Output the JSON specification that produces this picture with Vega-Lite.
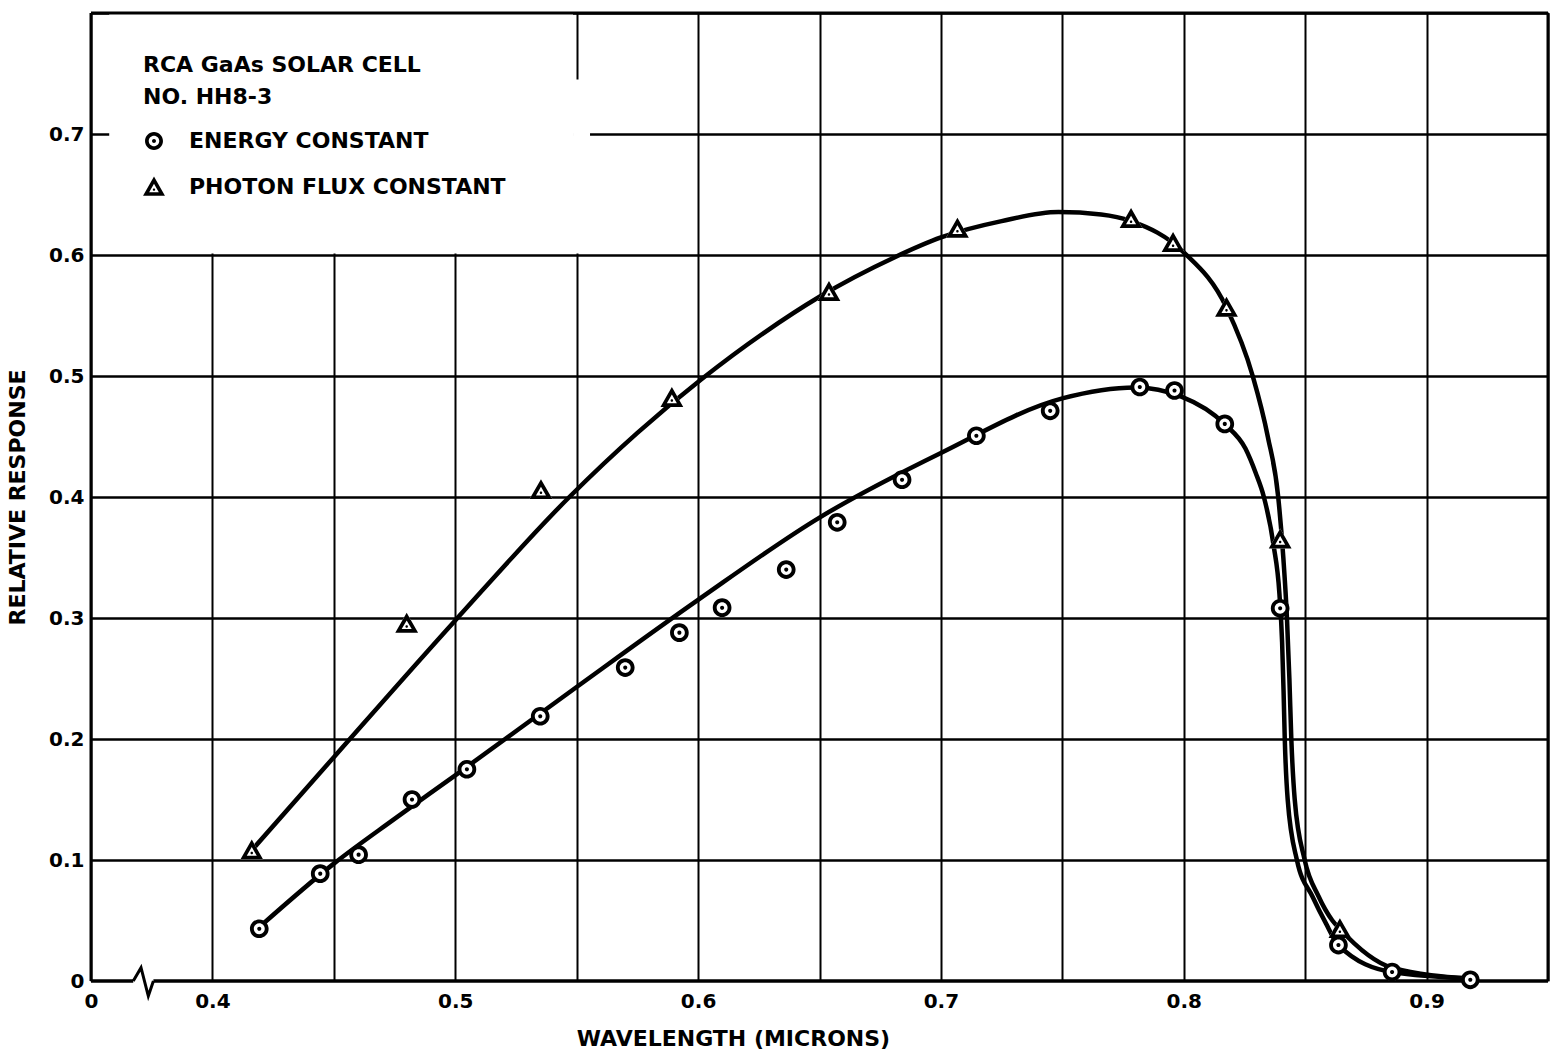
{
  "$schema": "https://vega.github.io/schema/vega-lite/v6.json",
  "width": 1457,
  "height": 968,
  "autosize": {"type": "none"},
  "padding": {"left": 91, "top": 13, "right": 4, "bottom": 73},
  "background": "white",
  "config": {
    "view": {"stroke": null},
    "font": "DejaVu Sans",
    "axis": {"labelFont": "DejaVu Sans", "titleFont": "DejaVu Sans"},
    "legend": {"labelFont": "DejaVu Sans", "titleFont": "DejaVu Sans"}
  },
  "datasets": {
    "points": [
      {"w": 0.4193, "r": 0.0432, "s": "ENERGY CONSTANT"},
      {"w": 0.4444, "r": 0.0887, "s": "ENERGY CONSTANT"},
      {"w": 0.4602, "r": 0.1044, "s": "ENERGY CONSTANT"},
      {"w": 0.4822, "r": 0.150, "s": "ENERGY CONSTANT"},
      {"w": 0.5048, "r": 0.175, "s": "ENERGY CONSTANT"},
      {"w": 0.535, "r": 0.2188, "s": "ENERGY CONSTANT"},
      {"w": 0.570, "r": 0.259, "s": "ENERGY CONSTANT"},
      {"w": 0.5923, "r": 0.2879, "s": "ENERGY CONSTANT"},
      {"w": 0.6099, "r": 0.3085, "s": "ENERGY CONSTANT"},
      {"w": 0.6363, "r": 0.340, "s": "ENERGY CONSTANT"},
      {"w": 0.6573, "r": 0.3791, "s": "ENERGY CONSTANT"},
      {"w": 0.684, "r": 0.4143, "s": "ENERGY CONSTANT"},
      {"w": 0.7146, "r": 0.4506, "s": "ENERGY CONSTANT"},
      {"w": 0.745, "r": 0.4712, "s": "ENERGY CONSTANT"},
      {"w": 0.7819, "r": 0.4909, "s": "ENERGY CONSTANT"},
      {"w": 0.7962, "r": 0.488, "s": "ENERGY CONSTANT"},
      {"w": 0.8169, "r": 0.4604, "s": "ENERGY CONSTANT"},
      {"w": 0.8397, "r": 0.308, "s": "ENERGY CONSTANT"},
      {"w": 0.8637, "r": 0.0297, "s": "ENERGY CONSTANT"},
      {"w": 0.8858, "r": 0.0074, "s": "ENERGY CONSTANT"},
      {"w": 0.918, "r": 0.001, "s": "ENERGY CONSTANT"},
      {"w": 0.4162, "r": 0.108, "s": "PHOTON FLUX CONSTANT"},
      {"w": 0.480, "r": 0.2953, "s": "PHOTON FLUX CONSTANT"},
      {"w": 0.5353, "r": 0.4058, "s": "PHOTON FLUX CONSTANT"},
      {"w": 0.5892, "r": 0.482, "s": "PHOTON FLUX CONSTANT"},
      {"w": 0.6539, "r": 0.5696, "s": "PHOTON FLUX CONSTANT"},
      {"w": 0.7068, "r": 0.6218, "s": "PHOTON FLUX CONSTANT"},
      {"w": 0.7783, "r": 0.6298, "s": "PHOTON FLUX CONSTANT"},
      {"w": 0.7956, "r": 0.610, "s": "PHOTON FLUX CONSTANT"},
      {"w": 0.8176, "r": 0.5565, "s": "PHOTON FLUX CONSTANT"},
      {"w": 0.8397, "r": 0.365, "s": "PHOTON FLUX CONSTANT"},
      {"w": 0.8643, "r": 0.043, "s": "PHOTON FLUX CONSTANT"}
    ],
    "curves": [
      {"w": 0.4193, "r": 0.0445, "s": "ENERGY CONSTANT"},
      {"w": 0.45, "r": 0.097, "s": "ENERGY CONSTANT"},
      {"w": 0.475, "r": 0.134, "s": "ENERGY CONSTANT"},
      {"w": 0.5, "r": 0.170, "s": "ENERGY CONSTANT"},
      {"w": 0.55, "r": 0.2430, "s": "ENERGY CONSTANT"},
      {"w": 0.6, "r": 0.3150, "s": "ENERGY CONSTANT"},
      {"w": 0.65, "r": 0.3830, "s": "ENERGY CONSTANT"},
      {"w": 0.7, "r": 0.4364, "s": "ENERGY CONSTANT"},
      {"w": 0.75, "r": 0.4815, "s": "ENERGY CONSTANT"},
      {"w": 0.78, "r": 0.4905, "s": "ENERGY CONSTANT"},
      {"w": 0.799, "r": 0.483, "s": "ENERGY CONSTANT"},
      {"w": 0.817, "r": 0.460, "s": "ENERGY CONSTANT"},
      {"w": 0.8254, "r": 0.44, "s": "ENERGY CONSTANT"},
      {"w": 0.8296, "r": 0.42, "s": "ENERGY CONSTANT"},
      {"w": 0.8330, "r": 0.40, "s": "ENERGY CONSTANT"},
      {"w": 0.8370, "r": 0.36, "s": "ENERGY CONSTANT"},
      {"w": 0.8394, "r": 0.32, "s": "ENERGY CONSTANT"},
      {"w": 0.8405, "r": 0.28, "s": "ENERGY CONSTANT"},
      {"w": 0.8411, "r": 0.24, "s": "ENERGY CONSTANT"},
      {"w": 0.8416, "r": 0.20, "s": "ENERGY CONSTANT"},
      {"w": 0.8428, "r": 0.15, "s": "ENERGY CONSTANT"},
      {"w": 0.8466, "r": 0.10, "s": "ENERGY CONSTANT"},
      {"w": 0.853, "r": 0.0698, "s": "ENERGY CONSTANT"},
      {"w": 0.8585, "r": 0.0478, "s": "ENERGY CONSTANT"},
      {"w": 0.8637, "r": 0.0297, "s": "ENERGY CONSTANT"},
      {"w": 0.8858, "r": 0.0074, "s": "ENERGY CONSTANT"},
      {"w": 0.918, "r": 0.002, "s": "ENERGY CONSTANT"},
      {"w": 0.4162, "r": 0.108, "s": "PHOTON FLUX CONSTANT"},
      {"w": 0.45, "r": 0.185, "s": "PHOTON FLUX CONSTANT"},
      {"w": 0.5, "r": 0.298, "s": "PHOTON FLUX CONSTANT"},
      {"w": 0.547, "r": 0.400, "s": "PHOTON FLUX CONSTANT"},
      {"w": 0.575, "r": 0.453, "s": "PHOTON FLUX CONSTANT"},
      {"w": 0.6015, "r": 0.4975, "s": "PHOTON FLUX CONSTANT"},
      {"w": 0.627, "r": 0.5355, "s": "PHOTON FLUX CONSTANT"},
      {"w": 0.65, "r": 0.5655, "s": "PHOTON FLUX CONSTANT"},
      {"w": 0.6808, "r": 0.598, "s": "PHOTON FLUX CONSTANT"},
      {"w": 0.7, "r": 0.6145, "s": "PHOTON FLUX CONSTANT"},
      {"w": 0.725, "r": 0.628, "s": "PHOTON FLUX CONSTANT"},
      {"w": 0.7484, "r": 0.6355, "s": "PHOTON FLUX CONSTANT"},
      {"w": 0.766, "r": 0.6335, "s": "PHOTON FLUX CONSTANT"},
      {"w": 0.7783, "r": 0.628, "s": "PHOTON FLUX CONSTANT"},
      {"w": 0.8, "r": 0.6022, "s": "PHOTON FLUX CONSTANT"},
      {"w": 0.8176, "r": 0.5565, "s": "PHOTON FLUX CONSTANT"},
      {"w": 0.8284, "r": 0.5, "s": "PHOTON FLUX CONSTANT"},
      {"w": 0.8346, "r": 0.45, "s": "PHOTON FLUX CONSTANT"},
      {"w": 0.8389, "r": 0.40, "s": "PHOTON FLUX CONSTANT"},
      {"w": 0.8410, "r": 0.35, "s": "PHOTON FLUX CONSTANT"},
      {"w": 0.8425, "r": 0.30, "s": "PHOTON FLUX CONSTANT"},
      {"w": 0.8435, "r": 0.25, "s": "PHOTON FLUX CONSTANT"},
      {"w": 0.8443, "r": 0.20, "s": "PHOTON FLUX CONSTANT"},
      {"w": 0.8457, "r": 0.15, "s": "PHOTON FLUX CONSTANT"},
      {"w": 0.8498, "r": 0.10, "s": "PHOTON FLUX CONSTANT"},
      {"w": 0.8555, "r": 0.07, "s": "PHOTON FLUX CONSTANT"},
      {"w": 0.8612, "r": 0.05, "s": "PHOTON FLUX CONSTANT"},
      {"w": 0.8643, "r": 0.043, "s": "PHOTON FLUX CONSTANT"},
      {"w": 0.8858, "r": 0.011, "s": "PHOTON FLUX CONSTANT"},
      {"w": 0.918, "r": 0.002, "s": "PHOTON FLUX CONSTANT"}
    ],
    "axisbreak": [
      {"w": 0.3674, "r": 0},
      {"w": 0.3706, "r": 0.011},
      {"w": 0.3736, "r": -0.0124},
      {"w": 0.3757, "r": 0}
    ]
  },
  "layer": [
    {
      "data": {"name": "curves"},
      "mark": {"type": "line", "interpolate": "monotone", "color": "black", "strokeWidth": 4.5},
      "encoding": {
        "x": {
          "field": "w", "type": "quantitative",
          "scale": {"domain": [0.35, 0.95], "nice": false, "zero": false},
          "axis": {
            "values": [0.35, 0.4, 0.45, 0.5, 0.55, 0.6, 0.65, 0.7, 0.75, 0.8, 0.85, 0.9, 0.95],
            "labelExpr": "datum.value < 0.36 ? '0' : (abs(datum.value * 10 - round(datum.value * 10)) < 0.01 && datum.value < 0.92 ? format(datum.value, '.1f') : '')",
            "title": "WAVELENGTH (MICRONS)",
            "grid": true, "gridColor": "black", "gridWidth": 2, "gridOpacity": 1,
            "domain": false, "ticks": false, "labelFlush": false, "labelOverlap": false,
            "labelPadding": 10, "labelFontSize": 20, "labelFontWeight": "bold", "labelColor": "black",
            "titleFontSize": 22, "titleFontWeight": "bold", "titleColor": "black",
            "titleX": 642, "titlePadding": 17
          }
        },
        "y": {
          "field": "r", "type": "quantitative",
          "scale": {"domain": [0, 0.8], "nice": false},
          "axis": {
            "values": [0, 0.1, 0.2, 0.3, 0.4, 0.5, 0.6, 0.7, 0.8],
            "labelExpr": "datum.value == 0 ? '0' : (datum.value > 0.75 ? '' : format(datum.value, '.1f'))",
            "title": "RELATIVE RESPONSE",
            "grid": true, "gridColor": "black", "gridWidth": 2.5,
            "gridOpacity": {"condition": {"test": "datum.value == 0", "value": 0}, "value": 1},
            "domain": false, "ticks": false, "labelFlush": false, "labelOverlap": false,
            "labelPadding": 7, "labelFontSize": 20, "labelFontWeight": "bold", "labelColor": "black",
            "titleFontSize": 22, "titleFontWeight": "bold", "titleColor": "black",
            "titlePadding": 19
          }
        },
        "detail": {"field": "s", "type": "nominal"}
      }
    },
    {
      "data": {"values": [{}]},
      "mark": {"type": "rect", "color": "white"},
      "encoding": {
        "x": {"datum": 0.3575}, "x2": {"datum": 0.5485},
        "y": {"datum": 0.6012}, "y2": {"datum": 0.7995}
      }
    },
    {
      "data": {"values": [{}]},
      "mark": {"type": "rect", "color": "white"},
      "encoding": {
        "x": {"datum": 0.5485}, "x2": {"datum": 0.5555},
        "y": {"datum": 0.6012}, "y2": {"datum": 0.745}
      }
    },
    {
      "data": {"values": [{}]},
      "mark": {"type": "rule", "color": "black", "strokeWidth": 3},
      "encoding": {"x": {"datum": 0.35}, "y": {"datum": 0}, "y2": {"datum": 0.8}}
    },
    {
      "data": {"values": [{}]},
      "mark": {"type": "rule", "color": "black", "strokeWidth": 3},
      "encoding": {"x": {"datum": 0.95}, "y": {"datum": 0}, "y2": {"datum": 0.8}}
    },
    {
      "data": {"values": [{}]},
      "mark": {"type": "rule", "color": "black", "strokeWidth": 3},
      "encoding": {"x": {"datum": 0.35}, "x2": {"datum": 0.95}, "y": {"datum": 0.8}}
    },
    {
      "data": {"values": [{}]},
      "mark": {"type": "rule", "color": "black", "strokeWidth": 3.5},
      "encoding": {"x": {"datum": 0.35}, "x2": {"datum": 0.3674}, "y": {"datum": 0}}
    },
    {
      "data": {"values": [{}]},
      "mark": {"type": "rule", "color": "black", "strokeWidth": 3.5},
      "encoding": {"x": {"datum": 0.3757}, "x2": {"datum": 0.95}, "y": {"datum": 0}}
    },
    {
      "data": {"name": "axisbreak"},
      "mark": {"type": "line", "color": "black", "strokeWidth": 3, "strokeJoin": "miter"},
      "encoding": {
        "x": {"field": "w", "type": "quantitative"},
        "y": {"field": "r", "type": "quantitative"}
      }
    },
    {
      "data": {"name": "points"},
      "transform": [{"filter": "datum.s == 'ENERGY CONSTANT'"}],
      "mark": {"type": "point", "filled": true, "color": "white", "opacity": 1, "shape": "circle", "size": 300, "strokeWidth": 0},
      "encoding": {
        "x": {"field": "w", "type": "quantitative"},
        "y": {"field": "r", "type": "quantitative"}
      }
    },
    {
      "data": {"name": "points"},
      "transform": [{"filter": "datum.s == 'PHOTON FLUX CONSTANT'"}],
      "mark": {"type": "point", "filled": true, "color": "white", "opacity": 1, "shape": "M0,-0.95L1,0.8L-1,0.8Z", "size": 520, "strokeWidth": 0},
      "encoding": {
        "x": {"field": "w", "type": "quantitative"},
        "y": {"field": "r", "type": "quantitative"}
      }
    },
    {
      "data": {"name": "points"},
      "mark": {"type": "point", "filled": true, "color": "black", "opacity": 1, "size": 520, "strokeWidth": 0},
      "encoding": {
        "x": {"field": "w", "type": "quantitative"},
        "y": {"field": "r", "type": "quantitative"},
        "shape": {
          "field": "s", "type": "nominal",
          "scale": {
            "domain": ["ENERGY CONSTANT", "PHOTON FLUX CONSTANT"],
            "range": [
              "M0.82,0A0.82,0.82,0,1,1,-0.82,0A0.82,0.82,0,1,1,0.82,0ZM0.48,0A0.48,0.48,0,1,0,-0.48,0A0.48,0.48,0,1,0,0.48,0ZM0.18,0A0.18,0.18,0,1,1,-0.18,0A0.18,0.18,0,1,1,0.18,0Z",
              "M0,-0.95L1,0.8L-1,0.8ZM0,-0.29L-0.44,0.475L0.44,0.475ZM0.11,0.24A0.11,0.11,0,1,1,-0.11,0.24A0.11,0.11,0,1,1,0.11,0.24Z"
            ]
          },
          "legend": {
            "orient": "none", "legendX": 52, "legendY": 42,
            "title": ["RCA  GaAs SOLAR CELL", "NO. HH8-3"],
            "titleFontSize": 22, "titleFontWeight": "bold", "titleColor": "black",
            "titleLineHeight": 32, "titlePadding": 21, "titleLimit": 800, "titleAnchor": "start",
            "labelFontSize": 22, "labelFontWeight": "bold", "labelColor": "black", "labelLimit": 800,
            "labelOffset": 24, "rowPadding": 24,
            "symbolSize": 480, "symbolFillColor": "black", "symbolStrokeWidth": 0, "symbolStrokeColor": "black",
            "padding": 0
          }
        }
      }
    }
  ]
}
